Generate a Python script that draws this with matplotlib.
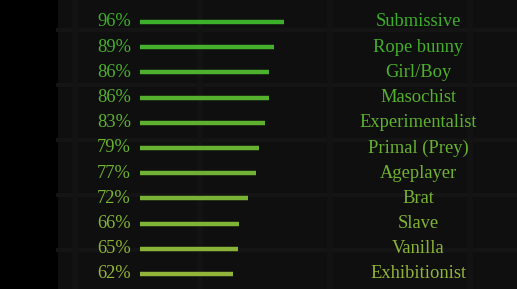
import matplotlib
matplotlib.use("Agg")
import matplotlib.pyplot as plt
from matplotlib.colors import LinearSegmentedColormap
from matplotlib.patches import Rectangle

categories = ["Submissive", "Rope bunny", "Girl/Boy", "Masochist", "Experimentalist",
              "Primal (Prey)", "Ageplayer", "Brat", "Slave", "Vanilla", "Exhibitionist"]
values = [96, 89, 86, 86, 83, 79, 77, 72, 66, 65, 62]

W, H = 517, 289
fig = plt.figure(figsize=(W / 100, H / 100), dpi=100)
fig.patch.set_facecolor("black")

# faint textured background panel
bg = fig.add_axes([0, 0, 1, 1])
bg.set_xlim(0, W)
bg.set_ylim(H, 0)
bg.axis("off")
bg.add_patch(Rectangle((58, 0), W - 58, H, facecolor="#0f0f0f", edgecolor="none"))
for yy in [30, 85, 140, 195, 250]:
    bg.plot([58, W], [yy, yy], color="#141414", lw=3)
for xx in [75, 200, 330, 470]:
    bg.plot([xx, xx], [0, H], color="#131313", lw=4)

cmap = LinearSegmentedColormap.from_list("g", ["#3cb02a", "#92b43a"])
n = len(categories)

x0 = 140
span = 150  # px for 100%
row0, row_sp = 22, 25.2
top = row0 - row_sp / 2
bottom = row0 + (n - 1) * row_sp + row_sp / 2
ax = fig.add_axes([x0 / W, 1 - bottom / H, span / W, (bottom - top) / H])
ax.set_xlim(0, 100)
ax.set_ylim(n - 0.5, -0.5)
ax.axis("off")
ax.patch.set_alpha(0)

for i, (cat, v) in enumerate(zip(categories, values)):
    c = cmap(i / (n - 1))
    ax.hlines(i, 0, v, color=c, lw=3.2, capstyle="butt")
    ax.text(-6, i, f"{v}%", ha="right", va="center", color=c,
            fontsize=13.3, family="Liberation Serif", clip_on=False)
    ax.text((418 - x0) / span * 100, i, cat, ha="center", va="center", color=c,
            fontsize=13.3, family="Liberation Serif", clip_on=False)

fig.savefig("out.png", dpi=100, facecolor="black")
